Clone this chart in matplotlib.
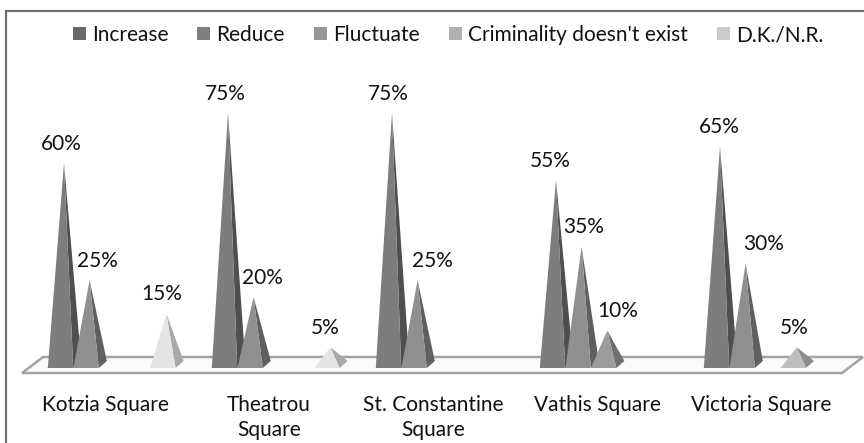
import numpy as np
import matplotlib
matplotlib.use('Agg')
import matplotlib.pyplot as plt
from matplotlib.patches import Polygon, Patch

plt.rcParams['font.family'] = ['Lato', 'DejaVu Sans']

squares = ['Kotzia Square', 'Theatrou\nSquare', 'St. Constantine\nSquare', 'Vathis Square', 'Victoria Square']
series = ['Increase', 'Reduce', 'Fluctuate', "Criminality doesn't exist", 'D.K./N.R.']

increase = [60, 75, 75, 55, 65]
reduce_ = [25, 20, 25, 35, 30]
fluctuate = [0, 0, 0, 10, 0]
no_crime = [0, 0, 0, 0, 5]
dknr = [15, 5, 0, 0, 0]
values = [increase, reduce_, fluctuate, no_crime, dknr]

legend_colors = ['#696969', '#7f7f7f', '#969696', '#b0b0b0', '#cbcbcb']
front_colors = ['#7d7d7d', '#8f8f8f', '#9c9c9c', '#bdbdbd', '#e4e4e4']
side_colors = ['#4f4f4f', '#5f5f5f', '#6f6f6f', '#8c8c8c', '#a8a8a8']

# label shift in pixels from the pyramid tip, same order as values
label_dx = [[-3, -3, -4, -6, -1],
            [8, 9, 15, 2, 18],
            [0, 0, 0, 11, 0],
            [0, 0, 0, 0, -3],
            [-5, -5, 0, 0, 0]]

W, H = 864, 443
px_x = 164.0      # one category
px_y = 3.347      # one percent
x0 = 64.0
y0 = 364.0
step = 25.6 / px_x
half = 12.7 / px_x
tip = 3.5 / px_x
dx = 8.0 / px_x
dy = 4.0 / px_y

fig = plt.figure(figsize=(W / 100, H / 100), dpi=100)
ax = fig.add_axes([0, 0, 1, 1])
ax.set_xlim(-x0 / px_x, (W - x0) / px_x)
ax.set_ylim((y0 - H) / px_y, y0 / px_y)
ax.axis('off')

# chart frame, only top and left are in the crop
ax.plot([(864 - x0) / px_x, (6 - x0) / px_x, (6 - x0) / px_x],
        [(y0 - 11) / px_y, (y0 - 11) / px_y, (y0 - 443) / px_y],
        color='#707070', lw=1.6, solid_joinstyle='miter')

# floor
fl = [(22, 373), (842, 373), (863, 357), (43, 357)]
floor = [((a - x0) / px_x, (y0 - b) / px_y) for a, b in fl]
ax.add_patch(Polygon(floor, closed=True, facecolor='#fbfbfb', edgecolor='#a3a3a3', lw=1.8, zorder=1))

for c in range(len(squares)):
    for s, vals in enumerate(values):
        v = vals[c]
        if v == 0:
            continue
        x = c + s * step - tip
        top = (x + tip, v)
        ax.add_patch(Polygon([(x + half, -dy), (x + half + dx, dy * 0.75), top], closed=True,
                             facecolor=side_colors[s], edgecolor='none', zorder=2 + s))
        ax.add_patch(Polygon([(x - half, -dy), (x + half, -dy), top], closed=True,
                             facecolor=front_colors[s], edgecolor='none', zorder=2 + s))
        ax.text(c + s * step + label_dx[s][c] / px_x, v + 5.8, '%d%%' % v,
                ha='center', va='center', fontsize=15, color='#111111', zorder=10)

for c, name in enumerate(squares):
    ax.text(c + 41 / px_x, -9.2, name, ha='center', va='top', fontsize=15,
            color='#111111', linespacing=1.3)

handles = [Patch(facecolor=col, edgecolor='none') for col in legend_colors]
ax.legend(handles, series, ncols=5, loc='center', bbox_to_anchor=(448 / W, 1 - 35 / H),
          frameon=False, fontsize=15, handlelength=0.62, handleheight=0.62,
          handletextpad=0.3, columnspacing=1.39, labelcolor='#111111')

fig.savefig('out.png', dpi=100)
